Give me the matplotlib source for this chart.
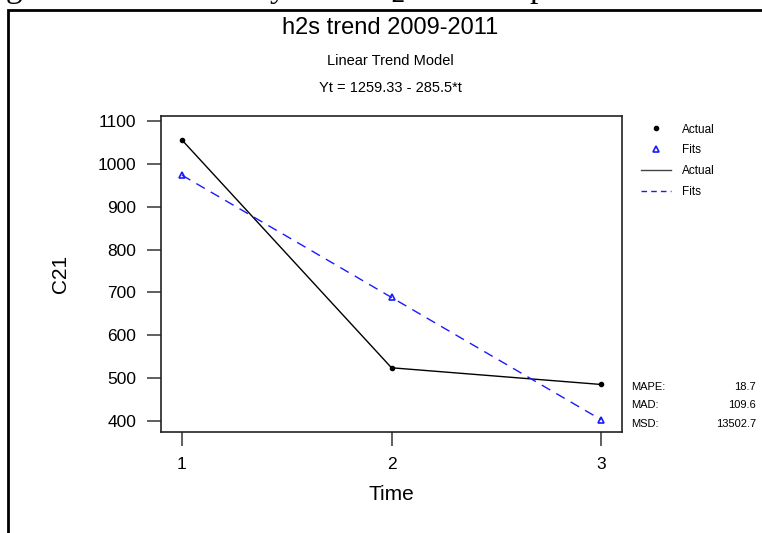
# h2s trend 2009-2011 : linear trend model plot (Minitab style)
import matplotlib.pyplot as plt
from matplotlib.lines import Line2D
from matplotlib.patches import Rectangle

plt.rcParams['font.family'] = ['Liberation Sans', 'DejaVu Sans']

# data
time = [1, 2, 3]
actual = [1056, 524, 485]
fits = [973.83, 688.33, 402.83]
yticks = [400, 500, 600, 700, 800, 900, 1000, 1100]
stat_names = ['MAPE:', 'MAD:', 'MSD:']
stat_values = ['18.7', '109.6', '13502.7']

W, H = 762, 533
fig = plt.figure(figsize=(W / 100, H / 100), dpi=100)

# axes box in pixels: x 161-622, y 116-432
ax = fig.add_axes([161 / W, 1 - 432 / H, (622 - 161) / W, (432 - 116) / H])

ax.plot(time, actual, color='black', lw=1.0)
ax.plot(time, fits, color='#1a1aff', lw=1.0, ls=(0, (7, 5)))
ax.plot(time, actual, 'o', color='black', ms=3)
ax.plot(time, fits, '^', color='#1a1aff', ms=4, mfc='none', mew=1.2)

ax.set_xlim(0.9, 3.1)
ax.set_ylim(374, 1112)
ax.set_xticks(time)
ax.set_yticks(yticks)
ax.tick_params(direction='out', length=10, width=1.2, labelsize=12.5, pad=8, color='#444444')
for s in ax.spines.values():
    s.set_linewidth(1.2)
    s.set_color('#222222')

ax.set_xlabel('Time', fontsize=15, labelpad=9)
ax.set_ylabel('C21', fontsize=15, labelpad=20)

# titles
fig.text(390 / W, 1 - 28 / H, 'h2s trend 2009-2011', ha='center', va='center', fontsize=17)
fig.text(390 / W, 1 - 61 / H, 'Linear Trend Model', ha='center', va='center', fontsize=10.5)
fig.text(390 / W, 1 - 88 / H, 'Yt = 1259.33 - 285.5*t', ha='center', va='center', fontsize=10.5)

# legend
handles = [
    Line2D([], [], ls='none', marker='o', color='black', ms=3),
    Line2D([], [], ls='none', marker='^', color='#1a1aff', ms=4, mfc='none', mew=1.2),
    Line2D([], [], color='#444444', lw=1.0),
    Line2D([], [], color='#1a1aff', lw=1.0, ls=(0, (4, 3))),
]
fig.legend(handles, ['Actual', 'Fits', 'Actual', 'Fits'],
           loc='upper left', bbox_to_anchor=(630 / W, 1 - 113 / H),
           frameon=False, fontsize=8.5, handlelength=2.6, labelspacing=0.75,
           handletextpad=0.9)

# accuracy measures
for i, (n, v) in enumerate(zip(stat_names, stat_values)):
    y = 1 - (387 + i * 18.5) / H
    fig.text(631 / W, y, n, ha='left', va='center', fontsize=8)
    fig.text(756 / W, y, v, ha='right', va='center', fontsize=8)

# outer frame of the embedded figure
fig.patches.append(Rectangle((8 / W, -0.1), 1.2, 1 - 10 / H + 0.1,
                             transform=fig.transFigure, fill=False,
                             lw=2, ec='black'))

# clipped line of document text above the figure (only its lower edge shows)
fig.text(-22 / W, 1 + 3 / H, 'Figure shows the analysis of H$_2$S for the period 2009-2011',
         ha='left', va='baseline', fontsize=24, family='Liberation Serif')

fig.savefig('out.png', dpi=100)
